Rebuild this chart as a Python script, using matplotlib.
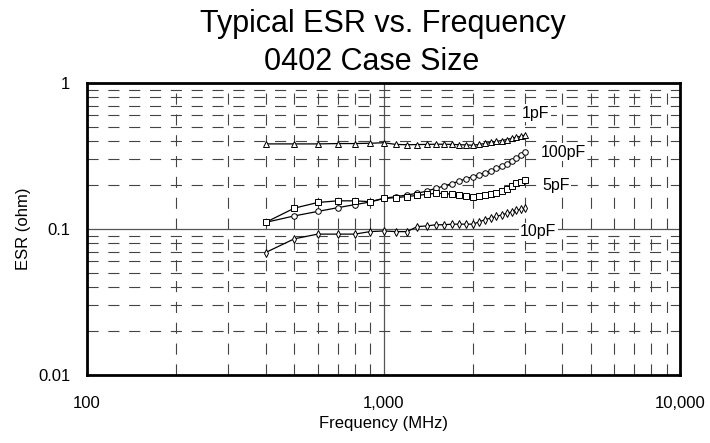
import matplotlib
matplotlib.use("Agg")
import matplotlib.pyplot as plt
from matplotlib.ticker import FixedLocator, NullFormatter

plt.rcParams['font.family'] = ['Liberation Sans', 'DejaVu Sans']
plt.rcParams['lines.scale_dashes'] = False

# frequency points (MHz)
freq = [400, 500, 600, 700, 800, 900, 1000, 1100, 1200, 1300, 1400, 1500, 1600,
        1700, 1800, 1900, 2000, 2100, 2200, 2300, 2400, 2500, 2600, 2700, 2800,
        2900, 3000]

# ESR (ohm)
esr_1pf = [0.383, 0.383, 0.383, 0.385, 0.385, 0.387, 0.390, 0.380, 0.378, 0.379,
           0.380, 0.381, 0.381, 0.380, 0.378, 0.377, 0.375, 0.380, 0.386, 0.392,
           0.398, 0.404, 0.410, 0.418, 0.425, 0.432, 0.440]
esr_100pf = [0.111, 0.123, 0.132, 0.140, 0.147, 0.153, 0.162, 0.167, 0.171, 0.176,
             0.182, 0.190, 0.197, 0.205, 0.213, 0.221, 0.229, 0.236, 0.243, 0.251,
             0.260, 0.271, 0.281, 0.293, 0.306, 0.321, 0.339]
esr_5pf = [0.111, 0.139, 0.152, 0.156, 0.156, 0.154, 0.162, 0.164, 0.167, 0.170,
           0.173, 0.176, 0.175, 0.173, 0.171, 0.169, 0.167, 0.168, 0.170, 0.173,
           0.177, 0.181, 0.187, 0.196, 0.206, 0.211, 0.217]
esr_10pf = [0.069, 0.0857, 0.0923, 0.0923, 0.0923, 0.096, 0.097, 0.096, 0.096, 0.104,
            0.105, 0.107, 0.107, 0.108, 0.108, 0.108, 0.108, 0.112, 0.116, 0.119,
            0.122, 0.125, 0.128, 0.131, 0.134, 0.137, 0.139]

series = [("1pF", esr_1pf, "^"), ("100pF", esr_100pf, "o"),
          ("5pF", esr_5pf, "s"), ("10pF", esr_10pf, "d")]
labels = {"1pF": (3250, 0.62), "100pF": (4030, 0.337), "5pF": (3820, 0.198),
          "10pF": (3320, 0.0957)}

fig = plt.figure(figsize=(7.1, 4.43), dpi=100)
ax = fig.add_axes([0.1225, 0.1535, 0.8355, 0.659])

ax.set_xscale('log')
ax.set_yscale('log')
ax.set_xlim(100, 10000)
ax.set_ylim(0.01, 1)

ax.xaxis.set_major_locator(FixedLocator([100, 1000, 10000]))
ax.set_xticklabels(["100", "1,000", "10,000"])
ax.xaxis.set_minor_locator(FixedLocator([200, 300, 400, 500, 600, 700, 800, 900,
                                         2000, 3000, 4000, 5000, 6000, 7000, 8000, 9000]))
ax.xaxis.set_minor_formatter(NullFormatter())
ax.yaxis.set_major_locator(FixedLocator([0.01, 0.1, 1]))
ax.set_yticklabels(["0.01", "0.1", "1"])
ax.yaxis.set_minor_locator(FixedLocator([0.02, 0.03, 0.04, 0.05, 0.06, 0.07, 0.08, 0.09,
                                         0.2, 0.3, 0.4, 0.5, 0.6, 0.7, 0.8, 0.9]))
ax.yaxis.set_minor_formatter(NullFormatter())

ax.grid(which='minor', color='#444444', linestyle=(0, (8, 7)), linewidth=0.8)
ax.grid(which='major', color='#555555', linestyle='-', linewidth=0.9)
ax.tick_params(which='both', length=0)
ax.tick_params(axis='x', pad=15, labelsize=12)
ax.tick_params(axis='y', pad=12, labelsize=12)
for s in ax.spines.values():
    s.set_linewidth(2)

for name, vals, m in series:
    ax.plot(freq, vals, color='black', linewidth=0.9, marker=m, markersize=4,
            markerfacecolor='white', markeredgecolor='black', markeredgewidth=0.7,
            zorder=3)
    lx, ly = labels[name]
    ax.text(lx, ly, name, fontsize=11.5, ha='center', va='center', zorder=4,
            bbox=dict(facecolor='white', edgecolor='none', pad=1))

ax.set_xlabel("Frequency (MHz)", fontsize=12, labelpad=4)
ax.set_ylabel("ESR (ohm)", fontsize=12, labelpad=5)
fig.text(382.5 / 710, 1 - 32 / 443, "Typical ESR vs. Frequency", fontsize=22,
         ha='center', va='baseline')
fig.text(372 / 710, 1 - 70 / 443, "0402 Case Size", fontsize=22,
         ha='center', va='baseline')

fig.savefig("out.png", facecolor='white')
